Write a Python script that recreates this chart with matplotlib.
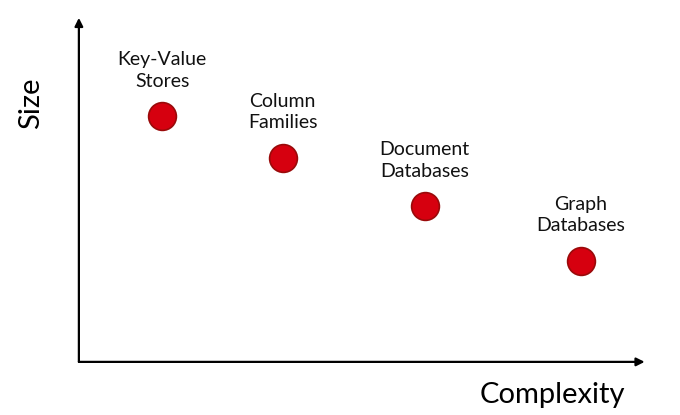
import matplotlib.pyplot as plt

plt.rcParams["font.family"] = ["Lato", "DejaVu Sans"]

# data (arbitrary units on 0-10 scales)
categories = [
    "Key-Value\nStores",
    "Column\nFamilies",
    "Document\nDatabases",
    "Graph\nDatabases",
]
complexity = [1.47, 3.6, 6.11, 8.87]
size = [7.15, 5.93, 4.53, 2.94]

fig = plt.figure(figsize=(6.8, 4.15), dpi=100)
ax = fig.add_axes([0.116, 0.128, 0.832, 0.829])

ax.set_xlim(0, 10)
ax.set_ylim(0, 10)

for spine in ax.spines.values():
    spine.set_visible(False)
ax.set_xticks([])
ax.set_yticks([])

# axis arrows
arrow_style = dict(arrowstyle="-|>", color="black", lw=1.6,
                   mutation_scale=12, shrinkA=0, shrinkB=0)
ax.annotate("", xy=(1, 0), xytext=(0, 0), xycoords="axes fraction",
            arrowprops=arrow_style)
ax.annotate("", xy=(0, 1), xytext=(0, 0), xycoords="axes fraction",
            arrowprops=arrow_style)

ax.scatter(
    complexity,
    size,
    s=400,
    color="#d6000f",
    edgecolor="#9a0a0a",
    linewidth=1.2,
    zorder=3,
)

for name, x, y in zip(categories, complexity, size):
    ax.annotate(
        name,
        (x, y),
        xytext=(0, 19),
        textcoords="offset points",
        ha="center",
        va="bottom",
        fontsize=14,
        linespacing=1.3,
        color="#111111",
    )

fig.text(552 / 680, 1 - 395 / 415, "Complexity", fontsize=21,
         ha="center", va="center")
fig.text(31 / 680, 1 - 103 / 415, "Size", fontsize=21, rotation=90,
         ha="center", va="center")

fig.savefig("out.png", dpi=100)
